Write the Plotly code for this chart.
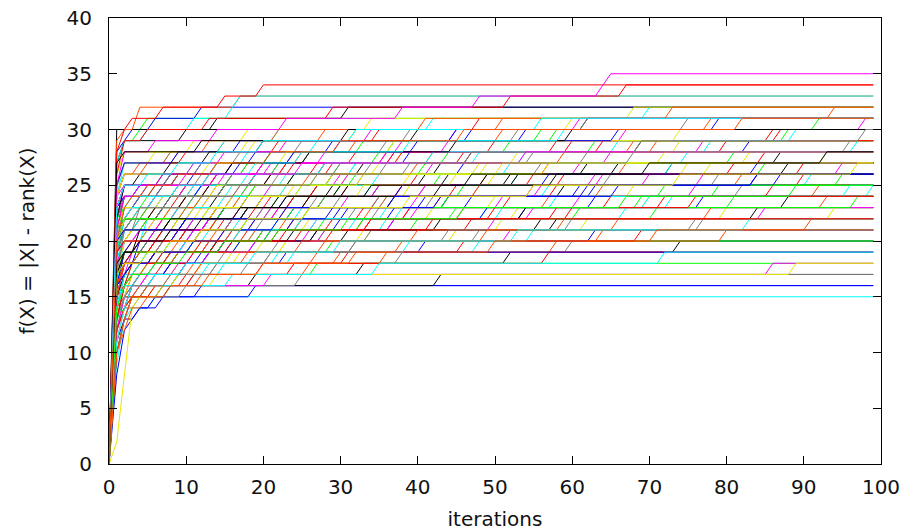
import plotly.graph_objects as go

# Each run: list of (iteration, fitness) readings at the iterations where the value changed.
# The value is held until the next reading; the last value is held to the final iteration.
LAST_ITERATION = 99

runs_15_19 = [
    [(0, 0), (1, 9), (2, 13), (3, 14), (6, 15)],
    [(0, 0), (1, 8), (2, 12), (3, 13), (4, 14), (7, 15), (12, 16)],
    [(0, 0), (1, 11), (2, 13), (4, 14), (6, 15), (19, 16)],
    [(0, 0), (1, 10), (2, 13), (3, 15), (8, 16), (43, 17)],
    [(0, 0), (1, 12), (2, 14), (4, 15), (10, 16), (25, 17)],
    [(0, 0), (1, 13), (2, 14), (3, 15), (5, 16), (9, 17), (27, 18)],
    [(0, 0), (1, 14), (2, 15), (4, 16), (21, 17), (86, 18)],
    [(0, 0), (1, 2), (2, 8), (3, 14), (4, 15), (7, 16), (14, 17), (89, 18)],
    [(0, 0), (1, 15), (2, 16), (4, 17), (12, 18), (30, 19)],
    [(0, 0), (1, 12), (2, 14), (3, 15), (6, 16), (11, 17), (24, 18), (57, 19)],
    [(0, 0), (1, 16), (2, 17), (8, 18), (13, 19)],
    [(0, 0), (1, 11), (2, 14), (3, 16), (16, 17), (35, 18), (72, 19)],
]

runs_20_22 = [
    [(0, 0), (1, 14), (2, 16), (3, 17), (10, 18), (23, 19), (41, 20)],
    [(0, 0), (1, 13), (2, 15), (5, 16), (9, 17), (15, 18), (22, 19), (48, 20)],
    [(0, 0), (1, 12), (2, 14), (3, 15), (7, 16), (19, 17), (33, 18), (52, 19), (74, 20)],
    [(0, 0), (1, 10), (2, 13), (3, 15), (5, 16), (11, 17), (18, 18), (38, 19), (60, 20)],
    [(0, 0), (1, 17), (2, 18), (6, 19), (29, 20)],
    [(0, 0), (1, 16), (2, 17), (3, 18), (8, 19), (15, 20), (52, 21)],
    [(0, 0), (1, 15), (2, 17), (4, 18), (9, 19), (20, 20), (34, 21)],
    [(0, 0), (1, 14), (2, 15), (4, 16), (12, 17), (26, 18), (36, 19), (58, 20), (80, 21)],
    [(0, 0), (1, 12), (2, 14), (3, 16), (10, 17), (20, 18), (31, 19), (46, 20), (69, 21)],
    [(0, 0), (1, 18), (3, 19), (17, 20), (63, 21)],
    [(0, 0), (1, 13), (2, 15), (3, 16), (6, 17), (13, 18), (24, 19), (39, 20), (55, 21)],
    [(0, 0), (1, 17), (2, 18), (6, 19), (14, 20), (24, 21), (58, 22)],
    [(0, 0), (1, 15), (2, 16), (3, 17), (11, 18), (27, 19), (38, 20), (64, 21), (91, 22)],
    [(0, 0), (1, 18), (2, 19), (7, 20), (12, 21), (16, 22)],
    [(0, 0), (1, 13), (2, 15), (3, 16), (8, 17), (14, 18), (21, 19), (32, 20), (44, 21), (77, 22)],
    [(0, 0), (1, 16), (2, 18), (9, 19), (28, 20), (49, 21), (66, 22)],
    [(0, 0), (1, 14), (2, 16), (4, 17), (10, 18), (19, 19), (30, 20), (53, 21), (83, 22)],
    [(0, 0), (1, 19), (2, 20), (25, 21), (42, 22)],
]

runs_23_24 = [
    [(0, 0), (1, 17), (2, 19), (5, 20), (10, 21), (22, 22), (49, 23)],
    [(0, 0), (1, 16), (2, 17), (4, 18), (9, 19), (14, 20), (31, 21), (56, 22), (84, 23)],
    [(0, 0), (1, 19), (2, 20), (8, 21), (18, 22), (35, 23)],
    [(0, 0), (1, 14), (2, 16), (3, 18), (7, 19), (17, 20), (28, 21), (40, 22), (71, 23)],
    [(0, 0), (1, 15), (2, 18), (7, 19), (13, 20), (26, 21), (37, 22), (55, 23)],
    [(0, 0), (1, 12), (2, 15), (3, 17), (9, 18), (16, 19), (23, 20), (45, 21), (62, 22), (94, 23)],
    [(0, 0), (1, 18), (2, 19), (6, 20), (20, 21), (33, 22), (78, 23)],
    [(0, 0), (1, 16), (2, 18), (4, 19), (11, 20), (29, 21), (47, 22), (60, 23)],
    [(0, 0), (1, 18), (2, 20), (6, 21), (13, 22), (30, 23), (47, 24)],
    [(0, 0), (1, 16), (2, 18), (5, 19), (10, 20), (19, 21), (36, 22), (51, 23), (73, 24)],
    [(0, 0), (1, 15), (2, 17), (3, 18), (8, 19), (15, 20), (27, 21), (43, 22), (54, 23), (88, 24)],
    [(0, 0), (1, 20), (2, 21), (9, 22), (17, 23), (30, 24)],
    [(0, 0), (1, 16), (2, 18), (6, 19), (12, 20), (15, 21), (25, 22), (39, 23), (65, 24)],
    [(0, 0), (1, 17), (2, 19), (11, 20), (21, 21), (33, 22), (61, 23), (97, 24)],
    [(0, 0), (1, 19), (2, 21), (5, 22), (24, 23), (81, 24)],
    [(0, 0), (1, 13), (2, 16), (3, 18), (7, 19), (14, 20), (22, 21), (34, 22), (58, 23), (76, 24)],
]

runs_25_26 = [
    [(0, 0), (1, 19), (2, 21), (8, 22), (18, 23), (37, 24), (59, 25)],
    [(0, 0), (1, 17), (2, 19), (4, 20), (12, 21), (20, 22), (32, 23), (42, 24), (82, 25)],
    [(0, 0), (1, 21), (2, 22), (10, 23), (16, 24), (25, 25)],
    [(0, 0), (1, 14), (2, 17), (3, 19), (10, 20), (17, 21), (29, 22), (40, 23), (51, 24), (76, 25)],
    [(0, 0), (1, 18), (2, 20), (7, 21), (14, 22), (26, 23), (50, 24), (68, 25)],
    [(0, 0), (1, 16), (2, 19), (6, 20), (16, 21), (23, 22), (34, 23), (57, 24), (92, 25)],
    [(0, 0), (1, 20), (2, 22), (9, 23), (21, 24), (45, 25)],
    [(0, 0), (1, 15), (2, 18), (4, 20), (11, 21), (19, 22), (31, 23), (44, 24), (63, 25)],
    [(0, 0), (1, 17), (2, 20), (13, 21), (27, 22), (38, 23), (70, 24), (99, 25)],
    [(0, 0), (1, 20), (2, 22), (7, 23), (14, 24), (31, 25), (53, 26)],
    [(0, 0), (1, 18), (2, 20), (5, 21), (11, 22), (20, 23), (35, 24), (48, 25), (79, 26)],
    [(0, 0), (1, 22), (2, 23), (12, 24), (19, 25), (32, 26)],
    [(0, 0), (1, 16), (2, 19), (3, 20), (9, 21), (16, 22), (24, 23), (41, 24), (61, 25), (87, 26)],
    [(0, 0), (1, 19), (2, 21), (11, 22), (22, 23), (40, 24), (56, 25), (70, 26)],
    [(0, 0), (1, 18), (2, 20), (6, 21), (13, 22), (17, 23), (28, 24), (35, 25), (64, 26)],
    [(0, 0), (1, 21), (2, 22), (15, 23), (28, 24), (46, 25), (95, 26)],
    [(0, 0), (1, 17), (2, 19), (4, 21), (8, 22), (18, 23), (26, 24), (43, 25), (58, 26)],
    [(0, 0), (1, 20), (2, 21), (10, 22), (23, 23), (37, 24), (66, 25), (84, 26)],
]

runs_27_28 = [
    [(0, 0), (1, 21), (2, 23), (8, 24), (19, 25), (33, 26), (56, 27)],
    [(0, 0), (1, 18), (2, 21), (4, 22), (13, 23), (22, 24), (30, 25), (43, 26), (85, 27)],
    [(0, 0), (1, 23), (2, 24), (9, 25), (15, 26), (22, 27)],
    [(0, 0), (1, 17), (2, 20), (3, 21), (8, 22), (14, 23), (26, 24), (39, 25), (50, 26), (78, 27)],
    [(0, 0), (1, 20), (2, 22), (10, 23), (17, 24), (38, 25), (49, 26), (67, 27)],
    [(0, 0), (1, 19), (2, 21), (7, 22), (15, 23), (24, 24), (31, 25), (59, 26), (90, 27)],
    [(0, 0), (1, 22), (2, 24), (12, 25), (29, 26), (46, 27)],
    [(0, 0), (1, 16), (2, 20), (5, 22), (11, 23), (20, 24), (34, 25), (53, 26), (73, 27)],
    [(0, 0), (1, 21), (2, 22), (6, 23), (18, 24), (27, 25), (41, 26), (62, 27)],
    [(0, 0), (1, 22), (2, 24), (9, 25), (16, 26), (36, 27), (62, 28)],
    [(0, 0), (1, 19), (2, 22), (5, 23), (11, 24), (18, 25), (29, 26), (41, 27), (81, 28)],
    [(0, 0), (1, 24), (2, 25), (13, 26), (21, 27), (36, 28)],
    [(0, 0), (1, 18), (2, 21), (3, 22), (9, 23), (15, 24), (23, 25), (35, 26), (52, 27), (75, 28)],
    [(0, 0), (1, 21), (2, 23), (7, 24), (14, 25), (29, 26), (48, 27), (93, 28)],
    [(0, 0), (1, 20), (2, 22), (14, 23), (20, 24), (33, 25), (45, 26), (57, 27), (72, 28)],
    [(0, 0), (1, 23), (2, 25), (10, 26), (25, 27), (54, 28)],
    [(0, 0), (1, 17), (2, 21), (4, 23), (8, 24), (17, 25), (27, 26), (39, 27), (68, 28)],
]

runs_29_30 = [
    [(0, 0), (1, 23), (2, 25), (8, 26), (20, 27), (32, 28), (58, 29)],
    [(0, 0), (1, 20), (2, 23), (4, 24), (12, 25), (19, 26), (28, 27), (39, 28), (83, 29)],
    [(0, 0), (1, 25), (2, 26), (11, 27), (18, 28), (27, 29)],
    [(0, 0), (1, 19), (2, 22), (3, 23), (8, 24), (13, 25), (21, 26), (33, 27), (47, 28), (69, 29)],
    [(0, 0), (1, 22), (2, 24), (10, 25), (16, 26), (34, 27), (55, 28), (96, 29)],
    [(0, 0), (1, 21), (2, 23), (6, 24), (15, 25), (24, 26), (30, 27), (44, 28), (63, 29)],
    [(0, 0), (1, 24), (2, 26), (14, 27), (37, 28), (77, 29)],
    [(0, 0), (1, 26), (2, 28), (18, 29)],
    [(0, 0), (1, 30)],
    [(0, 0), (1, 21), (2, 24), (6, 25), (14, 26), (24, 27), (36, 28), (50, 29), (86, 30)],
    [(0, 0), (1, 25), (2, 27), (9, 28), (17, 29), (54, 30)],
    [(0, 0), (1, 20), (2, 23), (3, 24), (11, 25), (19, 26), (28, 27), (42, 28), (66, 29), (89, 30)],
    [(0, 0), (1, 24), (2, 26), (13, 27), (23, 28), (37, 29), (74, 30)],
    [(0, 0), (1, 22), (2, 25), (7, 26), (16, 27), (26, 28), (45, 29), (60, 30)],
    [(0, 0), (1, 27), (2, 28), (12, 29), (40, 30)],
]

runs_31_35 = [
    [(0, 0), (1, 27), (2, 29), (4, 30), (5, 31)],
    [(0, 0), (1, 22), (2, 25), (9, 26), (20, 27), (26, 28), (38, 29), (45, 30), (98, 31)],
    [(0, 0), (1, 26), (2, 28), (19, 29), (32, 30), (60, 31)],
    [(0, 0), (1, 21), (2, 24), (7, 25), (13, 26), (16, 27), (25, 28), (32, 29), (51, 30), (78, 31)],
    [(0, 0), (1, 25), (2, 27), (10, 28), (22, 29), (35, 30), (48, 31)],
    [(0, 0), (1, 28), (2, 29), (3, 30), (6, 31), (12, 32)],
    [(0, 0), (1, 24), (2, 27), (8, 28), (15, 29), (22, 30), (42, 31), (70, 32)],
    [(0, 0), (1, 27), (2, 29), (10, 30), (14, 31), (31, 32)],
    [(0, 0), (1, 29), (2, 30), (4, 32), (17, 33)],
    [(0, 0), (1, 27), (2, 29), (5, 30), (11, 31), (16, 32), (17, 33)],
    [(0, 0), (1, 28), (2, 30), (3, 31), (7, 32), (15, 33), (20, 34)],
    [(0, 0), (1, 26), (2, 29), (5, 30), (13, 31), (29, 32), (52, 33), (67, 34)],
    [(0, 0), (1, 25), (2, 28), (6, 29), (14, 30), (23, 31), (38, 32), (48, 33), (64, 34), (65, 35)],
]

runs_busy_a = [
    [(0, 0), (1, 15), (2, 17), (3, 18), (5, 19), (7, 20), (10, 21), (14, 22), (21, 23), (44, 24), (79, 25)],
    [(0, 0), (1, 18), (2, 20), (4, 21), (6, 22), (9, 23), (13, 24), (18, 25), (30, 26), (61, 27)],
    [(0, 0), (1, 13), (2, 16), (3, 17), (5, 18), (8, 19), (12, 20), (17, 21), (26, 22), (53, 23)],
    [(0, 0), (1, 20), (2, 22), (4, 23), (7, 24), (11, 25), (16, 26), (23, 27), (38, 28), (71, 29)],
    [(0, 0), (1, 16), (2, 18), (4, 19), (6, 20), (10, 21), (15, 22), (22, 23), (35, 24), (58, 25), (90, 26)],
    [(0, 0), (1, 22), (2, 24), (5, 25), (8, 26), (12, 27), (19, 28), (29, 29), (47, 30)],
    [(0, 0), (1, 14), (2, 16), (3, 17), (6, 18), (9, 19), (14, 20), (20, 21), (32, 22), (67, 23)],
    [(0, 0), (1, 19), (2, 21), (3, 22), (7, 23), (10, 24), (15, 25), (24, 26), (43, 27), (87, 28)],
    [(0, 0), (1, 17), (2, 19), (5, 20), (8, 21), (11, 22), (18, 23), (27, 24), (41, 25), (65, 26)],
    [(0, 0), (1, 21), (2, 23), (3, 24), (6, 25), (9, 26), (14, 27), (21, 28), (33, 29), (56, 30), (92, 31)],
    [(0, 0), (1, 12), (2, 15), (3, 16), (5, 17), (9, 18), (13, 19), (19, 20), (28, 21), (50, 22), (85, 23)],
    [(0, 0), (1, 18), (2, 20), (3, 21), (6, 22), (11, 23), (16, 24), (25, 25), (39, 26), (75, 27)],
    [(0, 0), (1, 23), (2, 25), (4, 26), (8, 27), (13, 28), (20, 29), (31, 30), (62, 31)],
    [(0, 0), (1, 15), (2, 18), (4, 19), (7, 20), (12, 21), (16, 22), (23, 23), (36, 24), (48, 25), (82, 26)],
    [(0, 0), (1, 20), (2, 21), (5, 22), (8, 23), (12, 24), (17, 25), (26, 26), (40, 27), (59, 28)],
]

runs_busy_b = [
    [(0, 0), (1, 16), (2, 17), (3, 18), (7, 19), (11, 20), (17, 21), (25, 22), (42, 23), (70, 24)],
    [(0, 0), (1, 24), (2, 26), (5, 27), (9, 28), (15, 29), (28, 30), (51, 31), (94, 32)],
    [(0, 0), (1, 19), (2, 22), (4, 23), (9, 24), (13, 25), (19, 26), (27, 27), (46, 28), (80, 29)],
    [(0, 0), (1, 14), (2, 17), (3, 18), (6, 19), (10, 20), (16, 21), (24, 22), (37, 23), (63, 24)],
    [(0, 0), (1, 21), (2, 22), (4, 23), (7, 24), (12, 25), (18, 26), (32, 27), (54, 28), (97, 29)],
    [(0, 0), (1, 17), (2, 20), (3, 21), (8, 22), (14, 23), (20, 24), (30, 25), (49, 26), (73, 27)],
    [(0, 0), (1, 13), (2, 15), (4, 16), (6, 17), (10, 18), (15, 19), (22, 20), (34, 21), (60, 22)],
    [(0, 0), (1, 22), (2, 23), (5, 24), (10, 25), (16, 26), (22, 27), (35, 28), (52, 29), (88, 30)],
    [(0, 0), (1, 18), (2, 19), (4, 20), (9, 21), (13, 22), (21, 23), (31, 24), (55, 25), (77, 26)],
    [(0, 0), (1, 25), (2, 27), (6, 28), (11, 29), (18, 30), (34, 31), (68, 32)],
    [(0, 0), (1, 15), (2, 16), (3, 17), (5, 18), (8, 19), (13, 20), (19, 21), (29, 22), (46, 23), (93, 24)],
    [(0, 0), (1, 20), (2, 23), (6, 24), (10, 25), (14, 26), (23, 27), (37, 28), (64, 29)],
    [(0, 0), (1, 17), (2, 18), (4, 19), (8, 20), (12, 21), (18, 22), (26, 23), (44, 24), (72, 25)],
    [(0, 0), (1, 23), (2, 24), (4, 25), (9, 26), (17, 27), (24, 28), (40, 29), (66, 30)],
    [(0, 0), (1, 19), (2, 20), (5, 21), (10, 22), (15, 23), (23, 24), (38, 25), (57, 26), (84, 27)],
]

runs_busy_c = [
    [(0, 0), (1, 11), (2, 14), (3, 16), (5, 17), (8, 18), (11, 19), (15, 20), (20, 21), (27, 22), (39, 23), (61, 24)],
    [(0, 0), (1, 16), (2, 19), (3, 20), (6, 21), (9, 22), (12, 23), (17, 24), (23, 25), (31, 26), (49, 27), (83, 28)],
    [(0, 0), (1, 19), (2, 21), (4, 22), (6, 23), (10, 24), (14, 25), (19, 26), (28, 27), (42, 28), (68, 29)],
    [(0, 0), (1, 13), (2, 15), (3, 17), (6, 18), (9, 19), (13, 20), (18, 21), (24, 22), (33, 23), (52, 24), (86, 25)],
    [(0, 0), (1, 21), (2, 23), (4, 24), (7, 25), (11, 26), (16, 27), (21, 28), (30, 29), (45, 30), (79, 31)],
    [(0, 0), (1, 14), (2, 17), (3, 18), (5, 19), (8, 20), (12, 21), (17, 22), (25, 23), (36, 24), (57, 25), (91, 26)],
    [(0, 0), (1, 17), (2, 19), (4, 20), (7, 21), (10, 22), (15, 23), (22, 24), (29, 25), (44, 26), (66, 27)],
    [(0, 0), (1, 12), (2, 14), (3, 15), (5, 16), (9, 17), (14, 18), (21, 19), (32, 20), (48, 21), (76, 22)],
    [(0, 0), (1, 20), (2, 22), (3, 23), (6, 24), (9, 25), (13, 26), (18, 27), (26, 28), (37, 29), (58, 30)],
    [(0, 0), (1, 15), (2, 18), (4, 19), (7, 20), (11, 21), (16, 22), (20, 23), (28, 24), (41, 25), (63, 26), (95, 27)],
    [(0, 0), (1, 18), (2, 20), (3, 21), (5, 22), (8, 23), (13, 24), (19, 25), (27, 26), (35, 27), (53, 28), (74, 29)],
    [(0, 0), (1, 10), (2, 13), (3, 15), (5, 16), (8, 17), (12, 18), (18, 19), (25, 20), (40, 21), (59, 22)],
    [(0, 0), (1, 22), (2, 24), (4, 25), (8, 26), (12, 27), (17, 28), (25, 29), (39, 30), (62, 31)],
    [(0, 0), (1, 16), (2, 18), (3, 19), (6, 20), (10, 21), (14, 22), (19, 23), (26, 24), (38, 25), (55, 26), (81, 27)],
    [(0, 0), (1, 13), (2, 16), (4, 17), (7, 18), (11, 19), (16, 20), (23, 21), (34, 22), (50, 23), (72, 24)],
    [(0, 0), (1, 19), (2, 21), (3, 22), (7, 23), (11, 24), (15, 25), (22, 26), (30, 27), (47, 28), (69, 29), (98, 30)],
    [(0, 0), (1, 17), (2, 20), (5, 21), (9, 22), (13, 23), (18, 24), (24, 25), (33, 26), (51, 27)],
    [(0, 0), (1, 14), (2, 16), (3, 17), (6, 18), (10, 19), (15, 20), (22, 21), (31, 22), (46, 23), (67, 24), (89, 25)],
    [(0, 0), (1, 23), (2, 25), (5, 26), (9, 27), (14, 28), (20, 29), (32, 30), (56, 31)],
    [(0, 0), (1, 18), (2, 19), (4, 20), (8, 21), (12, 22), (17, 23), (23, 24), (34, 25), (47, 26), (70, 27), (93, 28)],
]

runs_busy_d = [
    [(0, 0), (1, 15), (2, 17), (4, 18), (6, 19), (9, 20), (14, 21), (19, 22), (26, 23), (43, 24), (64, 25)],
    [(0, 0), (1, 20), (2, 21), (3, 22), (5, 23), (10, 24), (15, 25), (21, 26), (29, 27), (38, 28), (60, 29), (87, 30)],
    [(0, 0), (1, 12), (2, 15), (3, 16), (6, 17), (10, 18), (13, 19), (19, 20), (27, 21), (37, 22), (54, 23)],
    [(0, 0), (1, 18), (2, 21), (4, 22), (8, 23), (11, 24), (16, 25), (23, 26), (32, 27), (48, 28), (78, 29)],
    [(0, 0), (1, 16), (2, 18), (3, 19), (5, 20), (9, 21), (13, 22), (18, 23), (24, 24), (35, 25), (52, 26), (88, 27)],
    [(0, 0), (1, 22), (2, 23), (4, 24), (7, 25), (12, 26), (18, 27), (24, 28), (36, 29), (53, 30), (75, 31)],
    [(0, 0), (1, 13), (2, 16), (3, 17), (5, 18), (9, 19), (14, 20), (20, 21), (28, 22), (45, 23), (69, 24)],
    [(0, 0), (1, 19), (2, 20), (4, 21), (7, 22), (11, 23), (16, 24), (21, 25), (31, 26), (42, 27), (65, 28)],
    [(0, 0), (1, 11), (2, 14), (3, 15), (6, 16), (9, 17), (12, 18), (17, 19), (23, 20), (33, 21), (51, 22), (80, 23)],
    [(0, 0), (1, 24), (2, 26), (4, 27), (8, 28), (13, 29), (22, 30), (41, 31), (73, 32)],
    [(0, 0), (1, 17), (2, 19), (3, 20), (7, 21), (10, 22), (14, 23), (20, 24), (27, 25), (40, 26), (57, 27), (85, 28)],
    [(0, 0), (1, 15), (2, 16), (4, 17), (8, 18), (12, 19), (16, 20), (21, 21), (30, 22), (49, 23), (77, 24)],
    [(0, 0), (1, 21), (2, 22), (3, 23), (6, 24), (10, 25), (14, 26), (20, 27), (28, 28), (44, 29), (67, 30)],
    [(0, 0), (1, 14), (2, 17), (4, 18), (7, 19), (11, 20), (17, 21), (25, 22), (36, 23), (58, 24), (96, 25)],
    [(0, 0), (1, 19), (2, 22), (3, 23), (6, 24), (9, 25), (13, 26), (19, 27), (25, 28), (39, 29), (59, 30)],
    [(0, 0), (1, 16), (2, 17), (3, 18), (6, 19), (11, 20), (15, 21), (22, 22), (29, 23), (43, 24), (62, 25), (84, 26)],
    [(0, 0), (1, 10), (2, 12), (3, 14), (5, 15), (8, 16), (13, 17), (20, 18), (32, 19), (50, 20), (71, 21)],
    [(0, 0), (1, 21), (2, 24), (4, 25), (7, 26), (11, 27), (15, 28), (23, 29), (34, 30), (61, 31)],
    [(0, 0), (1, 17), (2, 18), (5, 19), (8, 20), (12, 21), (18, 22), (26, 23), (39, 24), (55, 25), (74, 26), (97, 27)],
    [(0, 0), (1, 20), (2, 23), (3, 24), (5, 25), (9, 26), (14, 27), (21, 28), (30, 29), (46, 30), (82, 31)],
]

x_ticks = [0, 10, 20, 30, 40, 50, 60, 70, 80, 90, 100]
y_ticks = [0, 5, 10, 15, 20, 25, 30, 35, 40]

# gnuplot postscript default line colours
PALETTE = ["#ff0000", "#00ff00", "#0000ff", "#ff00ff", "#00ffff",
           "#e8e800", "#000000", "#ff4d00", "#808080"]

groups = [runs_15_19, runs_busy_a, runs_20_22, runs_busy_c, runs_23_24, runs_busy_b,
          runs_25_26, runs_busy_d, runs_27_28, runs_29_30, runs_31_35]
# interleave groups so that colours and draw order mix across levels
all_runs = []
maxlen = max(len(g) for g in groups)
for i in range(maxlen):
    for g in groups:
        if i < len(g):
            all_runs.append(g[i])

color_overrides = {
    id(runs_31_35[-1]): "#ff00ff",
    id(runs_31_35[-2]): "#ff0000",
    id(runs_31_35[-3]): "#ff0000",
    id(runs_31_35[-4]): "#00ffff",
    id(runs_31_35[-5]): "#ff4d00",
    id(runs_15_19[0]): "#00ffff",
    id(runs_15_19[1]): "#0000ff",
    id(runs_15_19[2]): "#0000ff",
    id(runs_29_30[8]): "#000000",
}


def polyline(run):
    xs, ys = [run[0][0]], [run[0][1]]
    for it, val in run[1:]:
        if it - 1 > xs[-1]:
            xs.append(it - 1)
            ys.append(ys[-1])
        xs.append(it)
        ys.append(val)
    if xs[-1] < LAST_ITERATION:
        xs.append(LAST_ITERATION)
        ys.append(ys[-1])
    return xs, ys


fig = go.Figure()
for i, run in enumerate(all_runs):
    xs, ys = polyline(run)
    color = color_overrides.get(id(run), PALETTE[i % len(PALETTE)])
    fig.add_trace(go.Scatter(x=xs, y=ys, mode="lines",
                             line=dict(color=color, width=1),
                             showlegend=False, hoverinfo="skip"))

axis_common = dict(
    showline=True, linecolor="black", linewidth=1, mirror="ticks",
    ticks="inside", ticklen=8, tickcolor="black", tickwidth=1,
    showgrid=False, zeroline=False, automargin=False,
    tickfont=dict(family="DejaVu Sans", size=20, color="#111"),
)

fig.update_xaxes(range=[0, 100], tickvals=x_ticks, ticktext=[str(v) for v in x_ticks],
                 ticklabelstandoff=5,
                 title=dict(text="iterations", standoff=14,
                            font=dict(family="DejaVu Sans", size=20, color="#111")),
                 **axis_common)
fig.update_yaxes(range=[0, 40], tickvals=y_ticks, ticktext=[str(v) for v in y_ticks],
                 ticklabelstandoff=12,
                 title=dict(text="f(X) = |X| - rank(X)", standoff=26,
                            font=dict(family="DejaVu Sans", size=20, color="#111")),
                 **axis_common)

fig.update_layout(
    width=918, height=531,
    margin=dict(l=109, r=37, t=18, b=67),
    plot_bgcolor="white", paper_bgcolor="white",
    showlegend=False,
)

fig.write_html("out.html", config={"displayModeBar": False},
               post_script="document.body.style.margin='0px';document.body.style.overflow='hidden';")
